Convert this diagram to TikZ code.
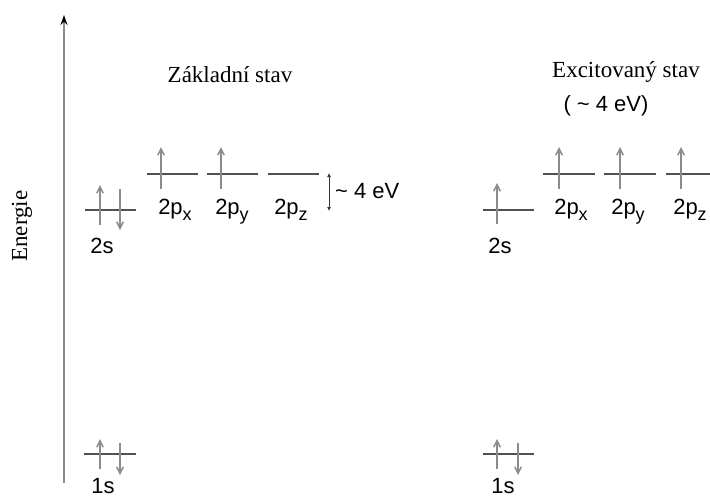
\documentclass[tikz,border=0pt]{standalone}
\usepackage{fontspec}
\setmainfont{Liberation Serif}
\newfontfamily\orbfont{Liberation Sans}
\usetikzlibrary{arrows.meta}
\definecolor{levelgray}{HTML}{505050}
\definecolor{spingray}{HTML}{8C8C8C}
\definecolor{axisgray}{HTML}{8A8A8A}
\newcommand{\orbsub}[1]{\raisebox{-6.5pt}{\fontsize{18}{18}\selectfont #1}}

\begin{document}
\begin{tikzpicture}[x=1pt,y=-1pt,
          every node/.style={inner sep=0pt},
          level/.style={draw=levelgray,line width=1.3pt},
          spin/.style={draw=spingray,line width=1.5pt,-{Straight Barb[length=6.5pt,width=6.5pt]}},
          orb/.style={font=\orbfont\fontsize{22}{26}\selectfont,anchor=base},
          title/.style={font=\fontsize{23}{27}\selectfont,anchor=base},
      ]
        \useasboundingbox (0,0) rectangle (710,499);

        % energy axis
        \coordinate (ebot) at (64,483);
        \coordinate (etop) at (64,15);
        \draw[axisgray,line width=1.8pt,-{Stealth[length=10pt,width=7pt,black]}] (ebot) -- (etop);
        \node[title,anchor=center,rotate=90] (energie) at (22,226) {Energie};

        % ground state
        \node[title] (zaklad) at (230,82) {Základní stav};

        \draw[level] (84,454) -- (136,454);
        \draw[spin] (100,469) -- (100,439);
        \draw[spin] (120,443) -- (120,475);
        \node[orb] (s1a) at (103,493) {1s};

        \draw[level] (85,210) -- (136,210);
        \draw[spin] (100,225) -- (100,185);
        \draw[spin] (120,189) -- (120,230);
        \node[orb] (s2a) at (102,253) {2s};

        \draw[level] (147,174) -- (198,174);
        \draw[level] (207,174) -- (258,174);
        \draw[level] (268,174) -- (319,174);
        \draw[spin] (161,189) -- (161,147);
        \draw[spin] (221,189) -- (221,147);
        \node[orb] (pxa) at (175,214) {2p\orbsub{x}};
        \node[orb] (pya) at (232,214) {2p\orbsub{y}};
        \node[orb] (pza) at (291,214) {2p\orbsub{z}};

        \coordinate (gaptop) at (329,173);
        \coordinate (gapbot) at (329,211);
        \draw[black!80,line width=1pt,{Latex[length=4pt,width=4pt]}-{Latex[length=4pt,width=4pt]}] (gaptop) -- (gapbot);
        \node[orb,anchor=base west] (gap) at (335,198) {\textasciitilde\ 4 eV};

        % excited state
        \node[title] (excit) at (626,77) {Excitovaný stav};
        \node[orb] (excitgap) at (606,111) {( \textasciitilde\ 4 eV)};

        \draw[level] (483,454) -- (534,454);
        \draw[spin] (497,469) -- (497,439);
        \draw[spin] (518,443) -- (518,475);
        \node[orb] (s1b) at (503,493) {1s};

        \draw[level] (483,210) -- (534,210);
        \draw[spin] (497,224) -- (497,183);
        \node[orb] (s2b) at (500,253) {2s};

        \draw[level] (543,174) -- (595,174);
        \draw[level] (604,174) -- (656,174);
        \draw[level] (666,174) -- (710,174);
        \draw[spin] (559,189) -- (559,147);
        \draw[spin] (620,189) -- (620,147);
        \draw[spin] (681,189) -- (681,147);
        \node[orb] (pxb) at (571,214) {2p\orbsub{x}};
        \node[orb] (pyb) at (628,214) {2p\orbsub{y}};
        \node[orb] (pzb) at (690,214) {2p\orbsub{z}};
      \end{tikzpicture}
\end{document}
